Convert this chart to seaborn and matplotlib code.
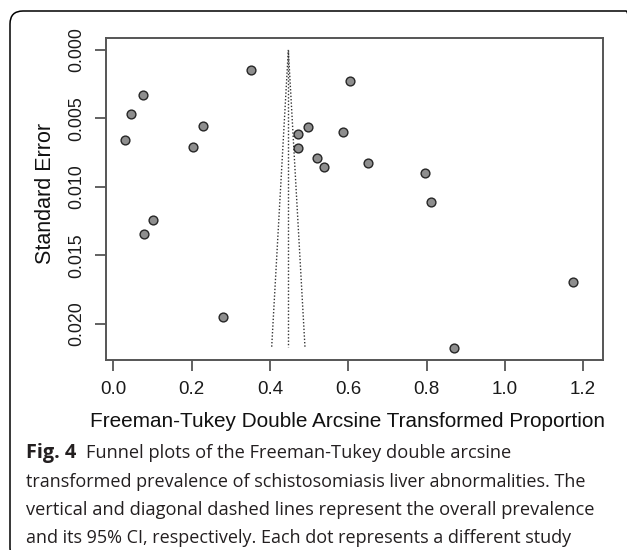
import numpy as np
import pandas as pd
import matplotlib
matplotlib.use("Agg")
import matplotlib.pyplot as plt
import seaborn as sns
from matplotlib.patches import FancyBboxPatch
from matplotlib.transforms import IdentityTransform

# ---- data ----
proportion = [0.351, 0.077, 0.044, 0.029, 0.229, 0.203, 0.471, 0.471, 0.497,
              0.519, 0.101, 0.079, 0.605, 0.586, 0.537, 0.651, 0.795, 0.812,
              0.281, 1.173, 0.871]
std_error = [0.00144, 0.00331, 0.00465, 0.00659, 0.00555, 0.00708, 0.00611,
             0.00718, 0.00564, 0.00786, 0.01243, 0.01341, 0.00226, 0.00601,
             0.00856, 0.00825, 0.00900, 0.01112, 0.01951, 0.01696, 0.02175]
pooled_estimate = 0.447
funnel_se_max = 0.02166
x_ticks = [0.0, 0.2, 0.4, 0.6, 0.8, 1.0, 1.2]
x_tick_labels = ["0.0", "0.2", "0.4", "0.6", "0.8", "1.0", "1.2"]
y_ticks = [0.000, 0.005, 0.010, 0.015, 0.020]
y_tick_labels = ["0.000", "0.005", "0.010", "0.015", "0.020"]
x_label = "Freeman-Tukey Double Arcsine Transformed Proportion"
y_label = "Standard Error"
caption_bold = "Fig. 4"
caption_lines = [
    "Funnel plots of the Freeman-Tukey double arcsine",
    "transformed prevalence of schistosomiasis liver abnormalities. The",
    "vertical and diagonal dashed lines represent the overall prevalence",
    "and its 95% CI, respectively. Each dot represents a different study",
]

df = pd.DataFrame({"prop": proportion, "se": std_error})

sns.set_theme(style="white")
plt.rcParams["font.family"] = ["Liberation Sans", "DejaVu Sans"]

W, H = 627, 550
fig = plt.figure(figsize=(W / 100, H / 100), dpi=100)
fig.patch.set_facecolor("white")


def fx(x):
    return x / W


def fy(y):
    return 1 - y / H


ax_l, ax_r, ax_t, ax_b = 106, 602.7, 38.3, 360
ax = fig.add_axes([fx(ax_l), fy(ax_b), (ax_r - ax_l) / W, (ax_b - ax_t) / H])
ax.set_facecolor("white")

sns.scatterplot(data=df, x="prop", y="se", ax=ax, s=40, color="#8e8e8e",
                edgecolor="#262626", linewidth=1.0, legend=False, zorder=3)

# funnel lines
ci = 1.96 * funnel_se_max
ls = (0, (1, 1.4))
ax.plot([pooled_estimate, pooled_estimate], [0, funnel_se_max], ls=ls, lw=1.0, color="#333333")
ax.plot([pooled_estimate - ci, pooled_estimate], [funnel_se_max, 0], ls=ls, lw=1.0, color="#333333")
ax.plot([pooled_estimate + ci, pooled_estimate], [funnel_se_max, 0], ls=ls, lw=1.0, color="#333333")

ax.set_xlim(-0.0187, 1.25)
ax.set_ylim(0.02263, -0.00085)
ax.set_xticks(x_ticks)
ax.set_xticklabels(x_tick_labels)
ax.set_yticks(y_ticks)
ax.set_yticklabels(y_tick_labels, rotation=90, va="center")
ax.set_xlabel("")
ax.set_ylabel("")
for s in ax.spines.values():
    s.set_visible(True)
    s.set_color("#555555")
    s.set_linewidth(1.4)
ax.tick_params(direction="out", length=8, width=1.3, color="#555555", pad=7,
               labelsize=13.5, labelcolor="#1a1a1a", bottom=True, left=True)
for t in ax.get_yticklabels():
    t.set_fontsize(12.8)

renderer = fig.canvas.get_renderer()


def fit_width(t, target):
    w = t.get_window_extent(renderer).width
    t.set_fontsize(t.get_fontsize() * target / w)


def fit_height(t, target):
    h = t.get_window_extent(renderer).height
    t.set_fontsize(t.get_fontsize() * target / h)


xl = fig.text(fx(347.5), fy(427), x_label, ha="center", va="baseline",
              fontsize=14, color="#111111")
fit_width(xl, 519)

yl = fig.text(fx(45.5), fy(193.5), y_label, ha="center", va="center",
              rotation=90, fontsize=14, color="#111111")
fit_height(yl, 143)

cap_font = ["Open Sans", "DejaVu Sans"]
cap_color = "#231f20"
fb = fig.text(fx(26), fy(458), caption_bold, ha="left", va="baseline",
              fontsize=13, fontweight="bold", family=cap_font, color=cap_color)
fit_width(fb, 50)

baselines = [458, 487, 515, 543]
lefts = [86, 26, 26, 26]
rights = [510, 584, 590, 570]
for line, b, l, r in zip(caption_lines, baselines, lefts, rights):
    t = fig.text(fx(l), fy(b), line, ha="left", va="baseline", fontsize=13,
                 family=cap_font, color=cap_color)
    fit_width(t, r - l)

# rounded frame around the figure (right and bottom edges fall outside)
frame = FancyBboxPatch((10, H - 561), 639 - 10, 561 - 11,
                       boxstyle="round,pad=0,rounding_size=13",
                       transform=IdentityTransform(), fill=False,
                       ec="black", lw=1.1)
fig.add_artist(frame)

fig.savefig("out.png", dpi=100)
